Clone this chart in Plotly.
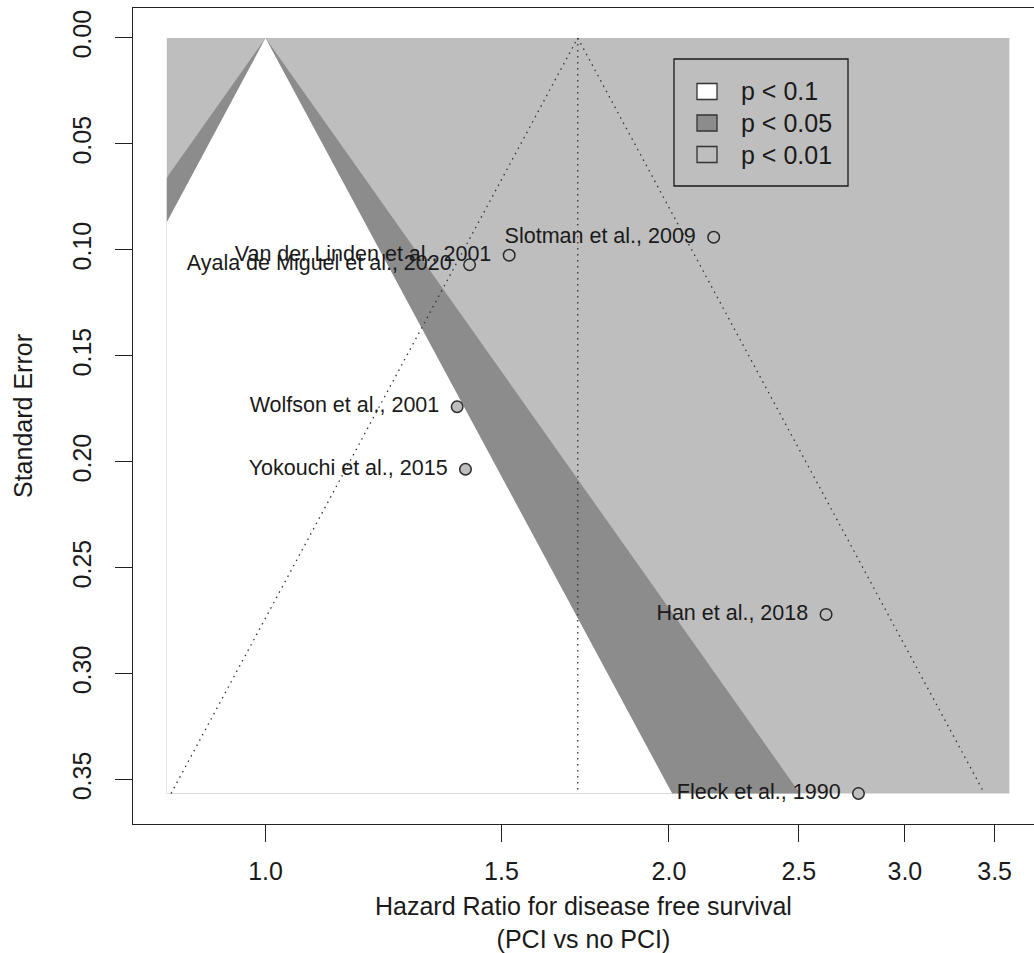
import numpy as np
import plotly.graph_objects as go

# ---- study-level data (hazard ratio, standard error of log HR) ----
studies = [
    "Slotman et al., 2009",
    "Van der Linden et al., 2001",
    "Ayala de Miguel et al., 2020",
    "Wolfson et al., 2001",
    "Yokouchi et al., 2015",
    "Han et al., 2018",
    "Fleck et al., 1990",
]
hazard_ratio = [2.16, 1.52, 1.42, 1.39, 1.41, 2.62, 2.77]
std_error = [0.094, 0.1025, 0.107, 0.174, 0.2035, 0.272, 0.3565]

# pooled estimate and x-extent of the significance contours
pooled_hr = 1.71
contour_hr_limits = [0.844, 3.59]

# contour levels (two-sided z) and their shading
contour_labels = ["p < 0.1", "p < 0.05", "p < 0.01"]
contour_z = [1.645, 1.96, 2.576]
contour_colors = ["#FFFFFF", "#8C8C8C", "#BEBEBE"]

x_tick_values = [1.0, 1.5, 2.0, 2.5, 3.0, 3.5]
x_tick_labels = ["1.0", "1.5", "2.0", "2.5", "3.0", "3.5"]
y_tick_values = [0.00, 0.05, 0.10, 0.15, 0.20, 0.25, 0.30, 0.35]
y_tick_labels = ["0.00", "0.05", "0.10", "0.15", "0.20", "0.25", "0.30", "0.35"]

FONT = "Liberation Sans, Arial, Helvetica, sans-serif"
INK = "#1a1a1a"

W, H = 1034, 953
M_L, M_R, M_T, M_B = 133, 0, 8, 129
PW, PH = W - M_L - M_R, H - M_T - M_B


def px_x(p):
    return (p - M_L) / PW


def px_y(p):
    return 1 - (p - M_T) / PH


se_max = max(std_error)
ln_lo, ln_hi = np.log(contour_hr_limits[0]), np.log(contour_hr_limits[1])
se_grid = np.linspace(0, se_max, 600)

fig = go.Figure()

# outer region (most significant shade) spans the whole contour window
fig.add_trace(go.Scatter(
    x=np.exp([ln_lo, ln_hi, ln_hi, ln_lo, ln_lo]),
    y=[0, 0, se_max, se_max, 0],
    mode="lines", fill="toself", fillcolor=contour_colors[2],
    line=dict(width=0), hoverinfo="skip", showlegend=False,
))

# inner funnels around HR = 1, clipped to the contour window
for z, color in [(contour_z[2], contour_colors[1]), (contour_z[1], contour_colors[0])]:
    left = np.maximum(-z * se_grid, ln_lo)
    right = np.minimum(z * se_grid, ln_hi)
    xs = np.exp(np.concatenate([left, right[::-1]]))
    ys = np.concatenate([se_grid, se_grid[::-1]])
    fig.add_trace(go.Scatter(
        x=xs, y=ys, mode="lines", fill="toself", fillcolor=color,
        line=dict(width=0), hoverinfo="skip", showlegend=False,
    ))

# pseudo 95% confidence funnel around the pooled estimate
ln_pool = np.log(pooled_hr)
dot_line = dict(color="#333333", width=1.3, dash="1.5px,4.5px")
fig.add_trace(go.Scatter(
    x=np.exp([ln_pool - 1.96 * se_max, ln_pool, ln_pool + 1.96 * se_max]),
    y=[se_max, 0, se_max],
    mode="lines", line=dot_line, hoverinfo="skip", showlegend=False,
))
fig.add_trace(go.Scatter(
    x=[pooled_hr, pooled_hr], y=[0, se_max],
    mode="lines", line=dot_line, hoverinfo="skip", showlegend=False,
))

# study labels, set off to the left of each point
fig.add_trace(go.Scatter(
    x=hazard_ratio, y=std_error, mode="markers+text",
    text=studies, textposition="middle left",
    textfont=dict(family=FONT, size=21.5, color=INK),
    marker=dict(size=27, color="rgba(0,0,0,0)"),
    hoverinfo="skip", showlegend=False,
))
# study points
fig.add_trace(go.Scatter(
    x=hazard_ratio, y=std_error, mode="markers",
    marker=dict(size=11.5, color="#BEBEBE", line=dict(color="#2a2a2a", width=1.5)),
    text=studies, hoverinfo="text+x+y", showlegend=False,
))

axis_common = dict(
    showgrid=False, zeroline=False, showline=True, linecolor="#222222", linewidth=1.3,
    ticks="outside", ticklen=17, tickwidth=1.3, tickcolor="#222222",
    tickfont=dict(family=FONT, size=25, color=INK),
)

fig.update_xaxes(
    type="log", range=[-0.09887, 0.57346],
    tickvals=x_tick_values, ticktext=x_tick_labels,
    mirror=True, ticklabelstandoff=8, **axis_common,
)
fig.update_yaxes(
    range=[0.3709, -0.01415],
    tickvals=y_tick_values, ticktext=y_tick_labels, tickangle=-90,
    ticklabelstandoff=14, **axis_common,
)

annotations = [
    dict(text="Standard Error", x=px_x(23), y=px_y(416), xref="paper", yref="paper",
         textangle=-90, showarrow=False, xanchor="center", yanchor="middle",
         font=dict(family=FONT, size=25, color=INK)),
    dict(text="Hazard Ratio for disease free survival<br>(PCI vs no PCI)",
         x=px_x(583), y=px_y(922), xref="paper", yref="paper",
         showarrow=False, xanchor="center", yanchor="middle",
         font=dict(family=FONT, size=25, color=INK)),
]

# legend: framed box with shaded keys
shapes = [dict(type="rect", xref="paper", yref="paper",
               x0=px_x(674), x1=px_x(848), y0=px_y(186), y1=px_y(59),
               line=dict(color="#1a1a1a", width=1.3), fillcolor="rgba(0,0,0,0)")]
key_rows = [91.5, 123, 154.5]
for label, color, yc in zip(contour_labels, contour_colors, key_rows):
    shapes.append(dict(type="rect", xref="paper", yref="paper",
                       x0=px_x(697), x1=px_x(717), y0=px_y(yc + 8), y1=px_y(yc - 8),
                       line=dict(color="#333333", width=1.3), fillcolor=color))
    annotations.append(dict(text=label, x=px_x(739), y=px_y(yc), xref="paper", yref="paper",
                            showarrow=False, xanchor="left", yanchor="middle",
                            font=dict(family=FONT, size=25, color=INK)))

fig.update_layout(
    width=W, height=H,
    margin=dict(l=M_L, r=M_R, t=M_T, b=M_B, pad=0),
    plot_bgcolor="white", paper_bgcolor="white",
    annotations=annotations, shapes=shapes,
    showlegend=False,
)

fig.write_html("out.html")
